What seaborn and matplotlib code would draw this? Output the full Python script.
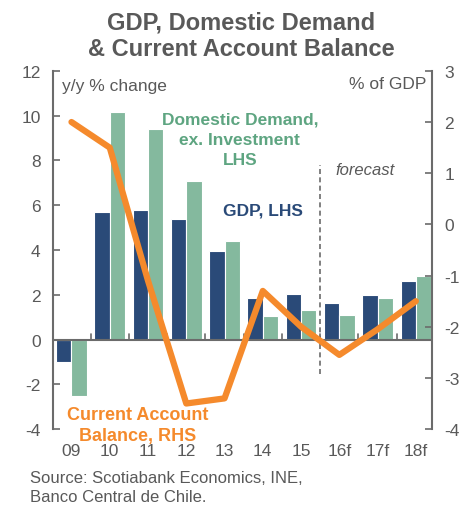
import matplotlib
matplotlib.use('Agg')
import matplotlib.pyplot as plt
import seaborn as sns
import pandas as pd
import numpy as np

# 数据
years = ['09', '10', '11', '12', '13', '14', '15', '16f', '17f', '18f']
gdp = [-1.0, 5.7, 5.8, 5.4, 3.95, 1.85, 2.05, 1.65, 2.0, 2.6]
dom_demand = [-2.5, 10.15, 9.4, 7.1, 4.4, 1.05, 1.3, 1.1, 1.85, 2.85]
current_account = [2.0, 1.5, -1.1, -3.5, -3.4, -1.3, -2.0, -2.55, -2.05, -1.5]

c_gdp = '#2a4a78'
c_dd = '#84b99e'
c_ca = '#f58a2c'
c_txt = '#595959'
c_axis = '#6b6b6b'

sns.set_theme(style='white')
plt.rcParams['font.family'] = ['Liberation Sans', 'DejaVu Sans']
plt.rcParams['axes.unicode_minus'] = False

df = pd.DataFrame({'year': years * 2,
                   'value': gdp + dom_demand,
                   'series': ['GDP'] * len(years) + ['DD'] * len(years)})

fig = plt.figure(figsize=(4.7, 5.06), dpi=100)
ax = fig.add_axes([0.113, 0.150, 0.806, 0.708])

sns.barplot(data=df, x='year', y='value', hue='series', order=years,
            hue_order=['GDP', 'DD'], palette=[c_gdp, c_dd], width=0.8,
            saturation=1, edgecolor='white', linewidth=0.8, legend=False, ax=ax)

ax.set_xlim(-0.48, 9.42)
ax.set_ylim(-4, 12)
ax.set_yticks(range(-4, 13, 2))
ax.set_xlabel('')
ax.set_ylabel('')

# 右轴：经常账户
ax2 = ax.twinx()
sns.lineplot(x=np.arange(len(years)), y=current_account, color=c_ca,
             linewidth=4.5, ax=ax2)
ax2.set_ylim(-4, 3)
ax2.set_yticks(range(-4, 4))
ax2.set_xlim(-0.48, 9.42)

# 坐标轴样式
for a in (ax, ax2):
    for s in a.spines.values():
        s.set_visible(False)
ax.spines['left'].set_visible(True)
ax.spines['left'].set_color(c_axis)
ax.spines['left'].set_linewidth(1.5)
ax2.spines['right'].set_visible(True)
ax2.spines['right'].set_color(c_axis)
ax2.spines['right'].set_linewidth(1.5)

ax.tick_params(axis='y', direction='in', length=5, width=1.2, color=c_axis,
               labelsize=12.5, labelcolor=c_txt, pad=9, left=True)
ax2.tick_params(axis='y', direction='in', length=5, width=1.2, color=c_axis,
                labelsize=12.5, labelcolor=c_txt, pad=9, right=True)

# x轴在0处，刻度在类别之间
ax.axhline(0, color=c_axis, linewidth=1.5, zorder=3)
ax.tick_params(axis='x', length=0, labelsize=12.5, labelcolor=c_txt, pad=10)
for b in np.arange(0.5, len(years) - 0.5, 1):
    ax.plot([b, b], [0, 0.25], color=c_axis, linewidth=1.2, zorder=3)

# 预测分界线
ax.plot([6.5, 6.5], [-1.55, 7.8], color=c_axis, linewidth=1.2,
        linestyle=(0, (3, 2)), zorder=3)

# 注释
ax.text(-0.25, 11.35, 'y/y % change', fontsize=12.5, color=c_txt, va='center')
ax2.text(9.27, 2.75, '% of GDP', fontsize=12.5, color=c_txt, va='center', ha='right')
ax.text(4.4, 8.95, 'Domestic Demand,\nex. Investment\nLHS', fontsize=12.5,
        color='#5ea581', fontweight='bold', ha='center', va='center',
        linespacing=1.45)
ax.text(5.0, 5.8, 'GDP, LHS', fontsize=12.5, color=c_gdp, fontweight='bold',
        ha='center', va='center')
ax.text(7.67, 7.6, 'forecast', fontsize=12, color=c_txt, style='italic',
        ha='center', va='center')
ax.text(1.72, -3.8, 'Current Account\nBalance, RHS', fontsize=13,
        color=c_ca, fontweight='bold', ha='center', va='center',
        linespacing=1.3, zorder=5)

fig.text(0.513, 0.928, 'GDP, Domestic Demand\n& Current Account Balance',
         fontsize=17, fontweight='bold', color=c_txt, ha='center',
         va='center', linespacing=1.2)
fig.text(0.063, 0.036, 'Source: Scotiabank Economics, INE,\nBanco Central de Chile.',
         fontsize=12, color=c_txt, ha='left', va='center', linespacing=1.35)

# x标签放到底部
ax.set_xticks(range(len(years)))
ax.set_xticklabels(years)

fig.savefig('out.png', dpi=100)
